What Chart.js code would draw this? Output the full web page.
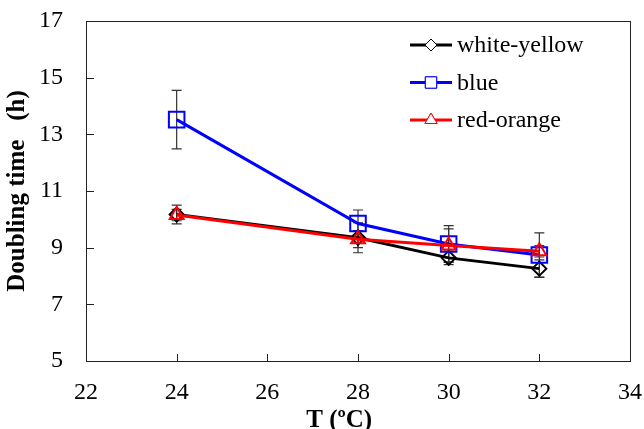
<!DOCTYPE html>
<html>
<head>
<meta charset="utf-8">
<script src="https://cdn.jsdelivr.net/npm/chart.js@4.4.1/dist/chart.umd.min.js"></script>
<style>
  body { margin: 0; background: #fff; }
  #wrap { width: 644px; height: 429px; }
</style>
</head>
<body>
<div id="wrap"><canvas id="dtChart" width="644" height="429"></canvas></div>
<script>
// temperatures (x) and doubling times (h)
const temps = [24, 28, 30, 32];
const whiteYellow = [10.17, 9.35, 8.64, 8.26];
const blue = [13.52, 9.85, 9.13, 8.74];
const redOrange = [10.15, 9.30, 9.08, 8.87];
// error bars (+/-)
const whiteYellowErr = [0.33, 0.53, 0.24, 0.31];
const blueErr = [1.03, 0.48, 0.65, 0.78];
const redOrangeErr = [0.2, 0.3, 0.58, 0.2];
const xTicks = [22, 24, 26, 28, 30, 32, 34];
const yTicks = [5, 7, 9, 11, 13, 15, 17];

const serif = "'Liberation Serif', 'Times New Roman', serif";

function pts(vals) {
    return temps.map((t, i) => ({ x: t, y: vals[i] }));
}

// fixed axis sizes, no extra label padding
function fixSize(prop, val) {
    return s => {
        s[prop] = val;
        s.paddingTop = 0; s.paddingBottom = 0;
        s.paddingLeft = 0; s.paddingRight = 0;
    };
}

// frame + inward ticks
const framePlugin = {
    id: 'frame',
    afterDraw(chart) {
        const { ctx, chartArea: a, scales } = chart;
        ctx.save();
        ctx.strokeStyle = '#222';
        ctx.lineWidth = 1;
        ctx.strokeRect(a.left + 0.5, a.top + 0.5, a.right - a.left, a.bottom - a.top);
        ctx.beginPath();
        xTicks.forEach(v => {
            const x = Math.round(scales.x.getPixelForValue(v)) + 0.5;
            ctx.moveTo(x, a.bottom);
            ctx.lineTo(x, a.bottom - 7);
        });
        yTicks.forEach(v => {
            const y = Math.round(scales.y.getPixelForValue(v)) + 0.5;
            ctx.moveTo(a.left, y);
            ctx.lineTo(a.left + 8, y);
        });
        ctx.stroke();
        ctx.restore();
    }
};

// error bars drawn under the lines
const errorBarPlugin = {
    id: 'errorBars',
    beforeDatasetsDraw(chart) {
        const { ctx, scales } = chart;
        ctx.save();
        ctx.strokeStyle = '#333';
        ctx.lineWidth = 1.2;
        chart.data.datasets.forEach(ds => {
            ds.data.forEach((p, i) => {
                const e = ds.errors[i];
                const x = scales.x.getPixelForValue(p.x);
                const yT = scales.y.getPixelForValue(p.y + e);
                const yB = scales.y.getPixelForValue(p.y - e);
                ctx.beginPath();
                ctx.moveTo(x, yT); ctx.lineTo(x, yB);
                ctx.moveTo(x - 5, yT); ctx.lineTo(x + 5, yT);
                ctx.moveTo(x - 5, yB); ctx.lineTo(x + 5, yB);
                ctx.stroke();
            });
        });
        ctx.restore();
    }
};

// legend: line with marker in the middle, then text
const legendPlugin = {
    id: 'lineLegend',
    afterDraw(chart) {
        const { ctx, chartArea: a } = chart;
        const items = [chart.data.datasets[2], chart.data.datasets[1], chart.data.datasets[0]];
        const sizes = [6, 8, 7];
        ctx.save();
        ctx.font = '24px ' + serif;
        ctx.textBaseline = 'middle';
        items.forEach((ds, i) => {
            const y = a.top + 24 + i * 37.5;
            const x0 = a.right - 220;
            ctx.strokeStyle = ds.borderColor;
            ctx.lineWidth = 3;
            ctx.beginPath();
            ctx.moveTo(x0, y); ctx.lineTo(x0 + 42, y);
            ctx.stroke();
            ctx.fillStyle = '#fff';
            ctx.strokeStyle = ds.borderColor;
            ctx.lineWidth = 1;
            Chart.helpers.drawPoint(ctx, { pointStyle: ds.pointStyle, radius: sizes[i], borderWidth: 1 }, x0 + 21, y);
            ctx.fill();
            ctx.stroke();
            ctx.fillStyle = '#000';
            ctx.fillText(ds.label, x0 + 47, y + 1);
        });
        ctx.restore();
    }
};

const ctx = document.getElementById('dtChart').getContext('2d');
new Chart(ctx, {
    type: 'line',
    data: {
        datasets: [
            {
                label: 'red-orange', data: pts(redOrange), errors: redOrangeErr, order: 1,
                borderColor: '#ff0000', backgroundColor: 'rgba(0,0,0,0)', borderWidth: 3,
                pointStyle: 'triangle', pointRadius: 8, pointBorderWidth: 2
            },
            {
                label: 'blue', data: pts(blue), errors: blueErr, order: 2,
                borderColor: '#0000ff', backgroundColor: 'rgba(0,0,0,0)', borderWidth: 3,
                pointStyle: 'rect', pointRadius: 11, pointBorderWidth: 2
            },
            {
                label: 'white-yellow', data: pts(whiteYellow), errors: whiteYellowErr, order: 3,
                borderColor: '#000000', backgroundColor: 'rgba(0,0,0,0)', borderWidth: 3,
                pointStyle: 'rectRot', pointRadius: 7, pointBorderWidth: 2
            }
        ]
    },
    options: {
        responsive: false,
        animation: false,
        layout: { padding: { top: 21, right: 14, left: 0, bottom: 0 } },
        plugins: { legend: { display: false }, tooltip: { enabled: false } },
        scales: {
            x: {
                type: 'linear', min: 22, max: 34,
                afterBuildTicks: s => { s.ticks = xTicks.map(v => ({ value: v })); },
                afterFit: fixSize('height', 68),
                grid: { display: false, drawTicks: false },
                border: { display: false },
                ticks: { color: '#000', font: { family: serif, size: 24 }, padding: 17 },
                // trailing en spaces nudge the centred title left, as in the original
                title: { display: true, text: 'T (ºC)\u2002\u2002\u2002', color: '#000', font: { family: serif, size: 25, weight: 'bold' }, padding: { top: 0, bottom: -7 } }
            },
            y: {
                min: 5, max: 17,
                afterBuildTicks: s => { s.ticks = yTicks.map(v => ({ value: v })); },
                afterFit: fixSize('width', 86),
                grid: { display: false, drawTicks: false },
                border: { display: false },
                ticks: { color: '#000', font: { family: serif, size: 24 }, padding: 23 },
                title: { display: true, text: 'Doubling time   (h)', color: '#000', font: { family: serif, size: 25, weight: 'bold' }, padding: { top: 3, bottom: 3 } }
            }
        }
    },
    plugins: [errorBarPlugin, framePlugin, legendPlugin]
});
</script>
</body>
</html>
